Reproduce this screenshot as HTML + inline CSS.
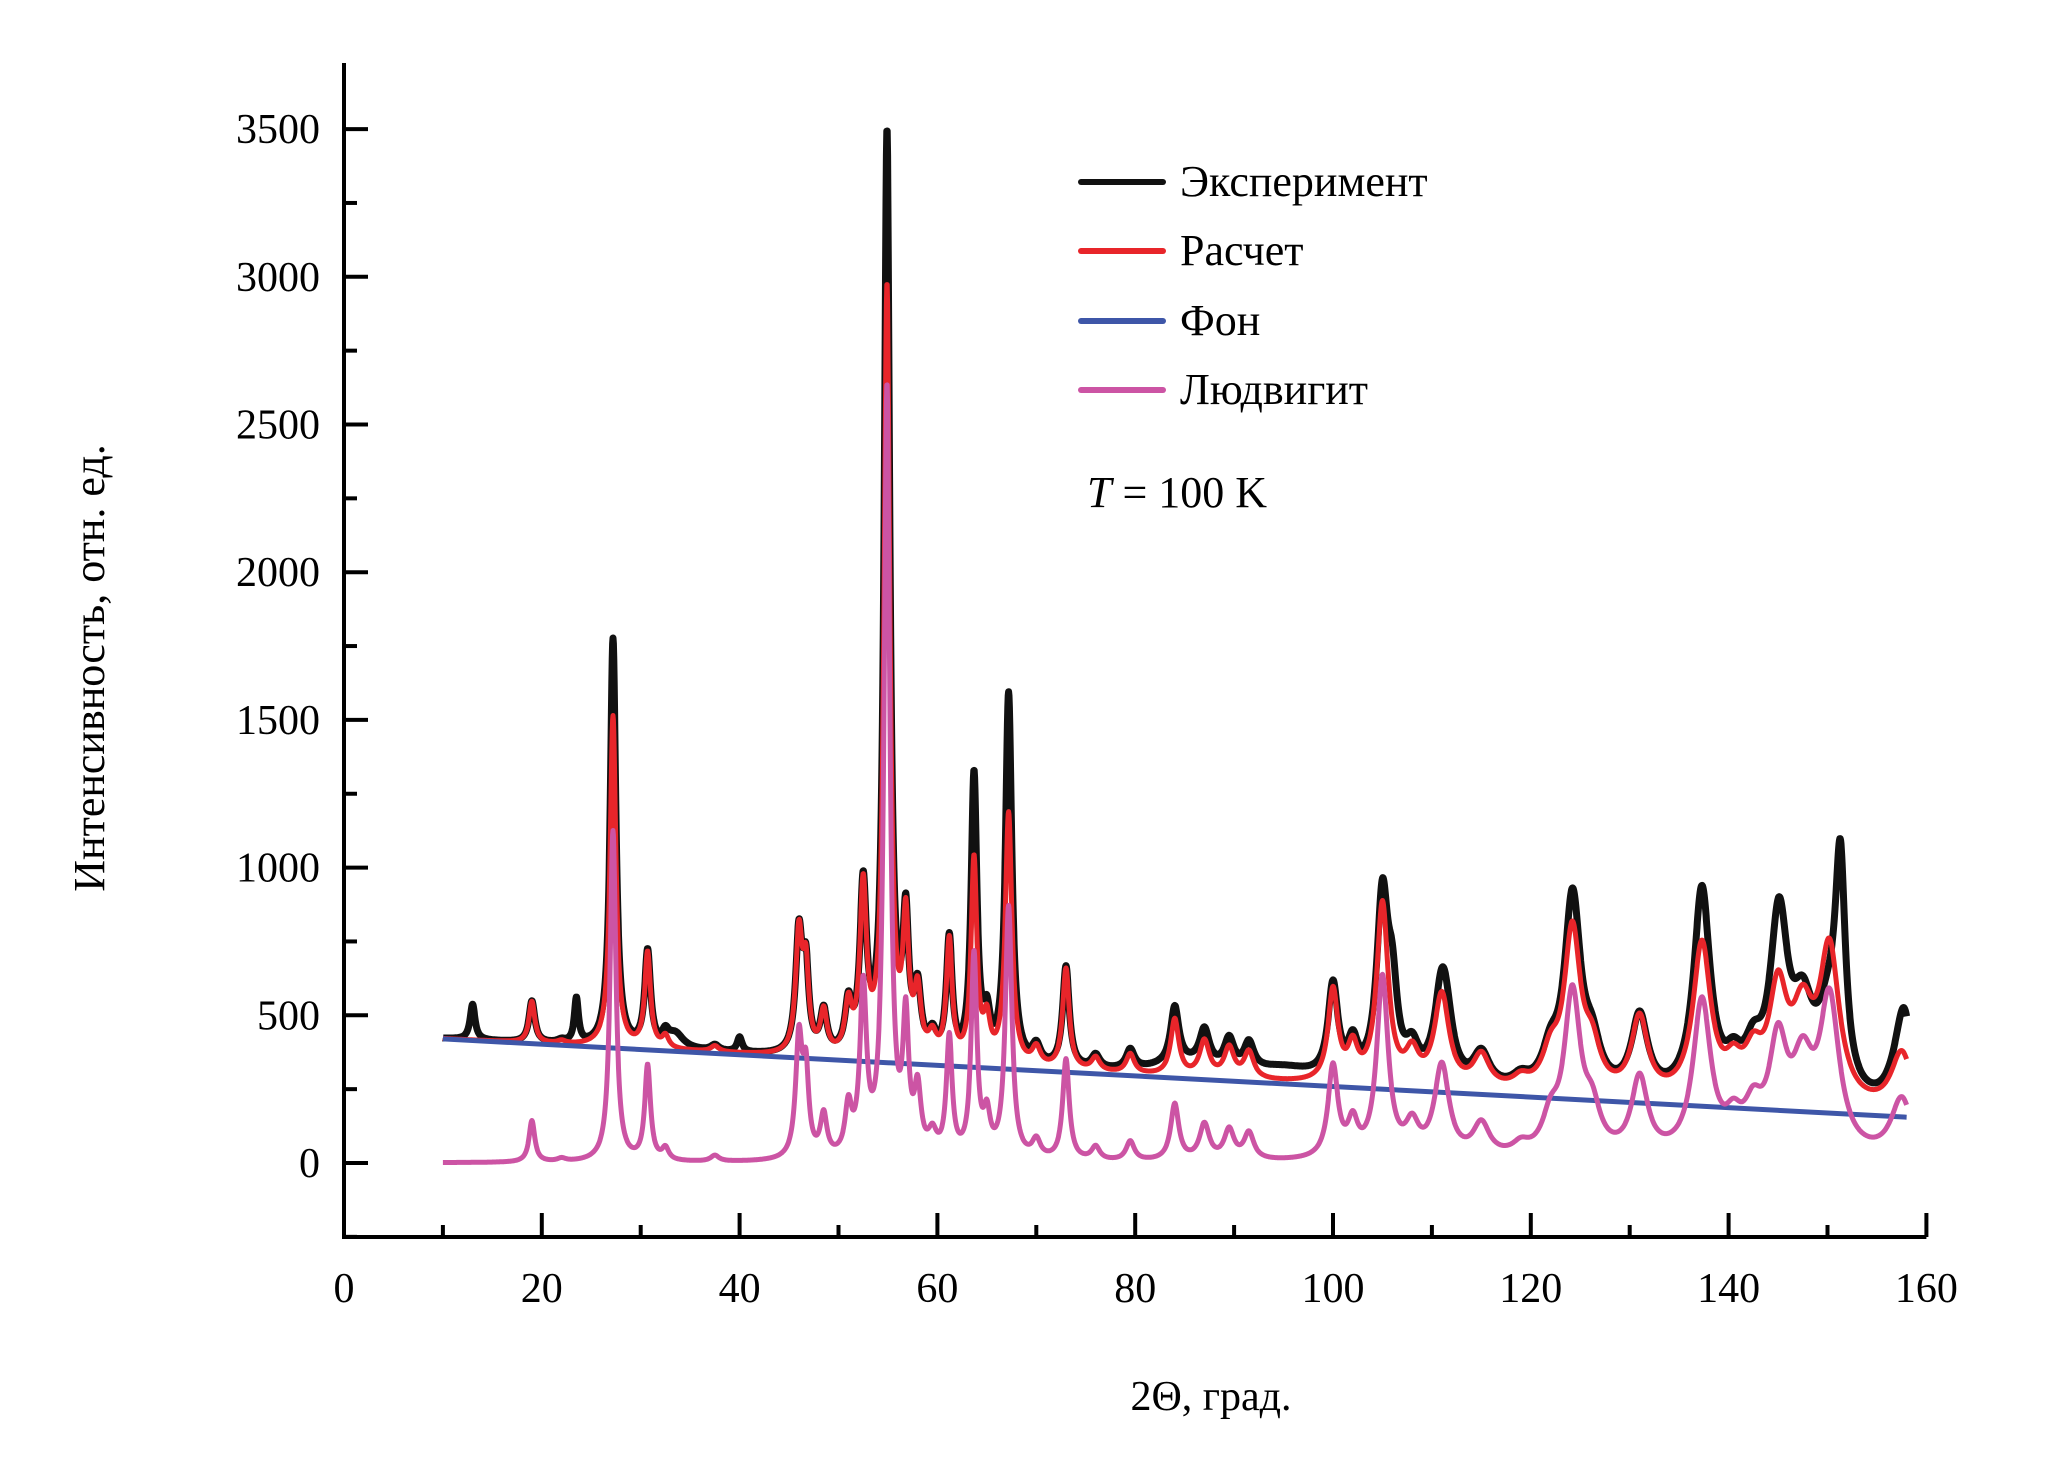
<!DOCTYPE html>
<html><head><meta charset="utf-8"><style>
body{margin:0;background:#fff}
svg{display:block}
text{font-family:"Liberation Serif",serif;fill:#000}
</style></head><body>
<svg id="chart" width="2067" height="1477" viewBox="0 0 2067 1477" xmlns="http://www.w3.org/2000/svg">
<g id="marks"></g>
<g id="axes"></g>
<g>
 <line x1="1081" y1="182" x2="1163" y2="182" stroke="#111" stroke-width="6" stroke-linecap="round"/>
 <text x="1180" y="196" font-size="44">Эксперимент</text>
 <line x1="1081" y1="251" x2="1163" y2="251" stroke="#e8252a" stroke-width="6" stroke-linecap="round"/>
 <text x="1180" y="265" font-size="44">Расчет</text>
 <line x1="1081" y1="321" x2="1163" y2="321" stroke="#3e56a8" stroke-width="6" stroke-linecap="round"/>
 <text x="1180" y="335" font-size="44">Фон</text>
 <line x1="1081" y1="390" x2="1163" y2="390" stroke="#cc54a4" stroke-width="6" stroke-linecap="round"/>
 <text x="1180" y="404" font-size="44">Людвигит</text>
 <text x="1087" y="507" font-size="44"><tspan font-style="italic">T</tspan> = 100 K</text>
</g>
<text transform="translate(104,668) rotate(-90)" text-anchor="middle" font-size="44">Интенсивность, отн. ед.</text>
<text x="1211" y="1410" text-anchor="middle" font-size="42">2Θ, град.</text>
</svg>
<script>
const xTicks=[0,20,40,60,80,100,120,140,160];
const yTicks=[0,500,1000,1500,2000,2500,3000,3500];
const bgStart=[10,420];
const bgEnd=[158,155];
const ludPos=[19,22,27.2,30.7,32.5,37.5,46,46.7,48.5,51,52.5,54.9,56.8,58,59.5,61.2,63.7,65,67.2,70,73,76,79.5,84,87,89.5,91.5,100,102,105,108,111,115,119,122,124.2,126.2,131,137.3,140.5,142.5,145,147.5,150.2,157.5];
const ludH=[140,10,1120,320,40,20,400,270,140,160,560,2600,440,210,70,400,680,130,850,60,340,45,65,190,120,100,90,310,110,610,100,310,110,35,110,540,130,260,520,90,130,350,270,510,200];
const ludW=[.35,.5,.35,.35,.4,.5,.4,.35,.4,.4,.4,.35,.35,.4,.5,.35,.35,.4,.4,.5,.4,.5,.5,.5,.6,.6,.6,.6,.6,.7,.8,.9,1,1,1,1,1,1,1.1,1,1.1,1.1,1.3,1.2,1.3];
const expPos=[13,23.5,27.2,33.5,40,54.9,63.7,67.2,106,111.5,124.3,137.3,145.2,150.2,151.3,157.8,85,95];
const expH=[120,150,260,50,50,520,280,400,250,100,110,180,250,-250,700,150,40,40];
const expW=[.3,.25,.3,1,.3,.3,.35,.35,.6,.8,.9,.8,1,1,.6,.8,4,4];

const X=v=>344+v*9.89, Y=v=>1163-v*0.2954;
const NS="http://www.w3.org/2000/svg";
const marks=document.getElementById('marks'), axes=document.getElementById('axes');
function mk(tag,attrs,parent){const e=document.createElementNS(NS,tag);for(const k in attrs)e.setAttribute(k,attrs[k]);parent.appendChild(e);return e;}
function bg(x){return bgStart[1]+(bgEnd[1]-bgStart[1])*(x-bgStart[0])/(bgEnd[0]-bgStart[0]);}
function sum(x,P,H,W){let s=0;for(let i=0;i<P.length;i++){const d=(x-P[i])/W[i];s+=H[i]/(1+d*d);}return s;}
const xs=[];for(let x=10;x<=158.001;x+=0.04)xs.push(x);
function path(f){return xs.map((x,i)=>(i?'L':'M')+X(x).toFixed(1)+','+Y(f(x)).toFixed(1)).join('');}
const pExp=mk('path',{d:path(x=>bg(x)+sum(x,ludPos,ludH,ludW)+sum(x,expPos,expH,expW)),fill:'none',stroke:'#111','stroke-width':7,'stroke-linejoin':'round'},marks);


const pCalc=mk('path',{d:path(x=>bg(x)+sum(x,ludPos,ludH,ludW)),fill:'none',stroke:'#e8252a','stroke-width':5,'stroke-linejoin':'round'},marks);


const pBg=mk('line',{x1:X(bgStart[0]),y1:Y(bgStart[1]),x2:X(bgEnd[0]),y2:Y(bgEnd[1]),stroke:'#3e56a8','stroke-width':5},marks);


const pLud=mk('path',{d:path(x=>sum(x,ludPos,ludH,ludW)),fill:'none',stroke:'#cc54a4','stroke-width':5,'stroke-linejoin':'round'},marks);



const ax=mk('path',{d:'M344,63V1237H'+X(160),fill:'none',stroke:'#000','stroke-width':4},axes);


xTicks.forEach((v,i)=>{
 const t=mk('line',{x1:X(v),x2:X(v),y1:1237,y2:1213,stroke:'#000','stroke-width':4},axes);
 
 
 if(i<xTicks.length-1){const m=mk('line',{x1:X(v+10),x2:X(v+10),y1:1237,y2:1225,stroke:'#000','stroke-width':4},axes);
 
 }
 const l=mk('text',{x:X(v),y:1302,'text-anchor':'middle','font-size':42},axes);l.textContent=v;
 
 
});
yTicks.forEach((v,i)=>{
 const t=mk('line',{x1:344,x2:368,y1:Y(v),y2:Y(v),stroke:'#000','stroke-width':4},axes);
 
 
 const m=mk('line',{x1:344,x2:357,y1:Y(v-250),y2:Y(v-250),stroke:'#000','stroke-width':4},axes);
 
 
 const l=mk('text',{x:320,y:Y(v)+14,'text-anchor':'end','font-size':42},axes);l.textContent=v;
 
 
});
</script>
</body></html>
